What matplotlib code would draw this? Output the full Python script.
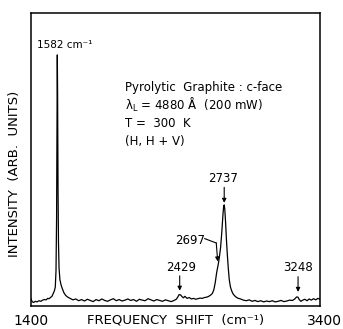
import matplotlib
matplotlib.use("Agg")
import matplotlib.pyplot as plt
import matplotlib.transforms as mtransforms

# Raman spectrum (shift in cm^-1, intensity in arb. units)
shift = [1400, 1408, 1418, 1430, 1442, 1455, 1468, 1480, 1492, 1505, 1515, 1525,
         1535, 1545, 1554, 1562, 1568, 1573, 1577, 1580, 1582, 1584, 1587, 1590,
         1594, 1600, 1608, 1616, 1628, 1640, 1655, 1670, 1690, 1710, 1730, 1750,
         1770, 1790, 1810, 1830, 1850, 1870, 1890, 1910, 1930, 1950, 1970, 1990,
         2010, 2030, 2050, 2070, 2090, 2110, 2130, 2150, 2170, 2190, 2210, 2230,
         2250, 2270, 2290, 2310, 2330, 2350, 2370, 2390, 2405, 2415, 2425, 2435,
         2445, 2455, 2465, 2480, 2495, 2510, 2525, 2540, 2555, 2570, 2585, 2600,
         2615, 2630, 2645, 2655, 2665, 2675, 2685, 2695, 2703, 2712, 2720, 2728,
         2733, 2737, 2741, 2746, 2752, 2758, 2765, 2772, 2780, 2790, 2800, 2815,
         2830, 2850, 2870, 2890, 2910, 2930, 2950, 2970, 2990, 3010, 3030, 3050,
         3070, 3090, 3110, 3130, 3150, 3170, 3190, 3210, 3225, 3238, 3248, 3256,
         3268, 3280, 3295, 3310, 3325, 3340, 3355, 3370, 3385, 3400]
intensity = [2.4, 1.5, 1.2, 1.6, 1.4, 1.8, 1.6, 2.0, 2.2, 2.1, 2.6, 2.5,
             2.9, 3.3, 4.3, 5.2, 6.5, 12.0, 30.0, 65.0, 85.7, 72.0, 40.0, 22.0,
             13.0, 9.0, 7.2, 6.0, 4.5, 3.6, 3.0, 2.6, 2.1, 2.4, 1.8, 2.2,
             1.7, 2.3, 1.9, 1.5, 2.2, 1.8, 2.4, 1.9, 1.6, 2.1, 2.5, 1.8,
             2.2, 1.7, 2.0, 2.4, 1.9, 2.2, 1.6, 2.3, 2.0, 1.8, 2.5, 2.1,
             1.7, 2.2, 1.9, 1.6, 2.1, 1.8, 1.5, 1.9, 2.3, 3.0, 3.9, 3.8,
             3.2, 2.8, 3.3, 2.6, 2.9, 2.4, 2.6, 2.3, 2.5, 2.7, 2.6, 2.9,
             3.0, 3.3, 3.8, 4.3, 5.5, 8.0, 11.5, 14.0, 16.5, 20.0, 25.0, 31.0,
             34.0, 34.5, 33.0, 29.0, 23.0, 18.0, 13.0, 9.0, 6.5, 5.0, 4.0, 3.2,
             2.7, 2.4, 2.0, 1.8, 2.1, 1.6, 1.9, 1.5, 1.8, 1.4, 1.7, 1.5,
             1.8, 1.4, 1.6, 1.9, 1.5, 1.7, 2.0, 1.9, 2.4, 3.1, 3.0, 2.2,
             1.6, 2.0, 2.3, 1.8, 2.4, 2.0, 2.5, 2.1, 2.6, 2.3]

# labelled peaks (cm^-1)
peak_g = 1582
peak_2429 = 2429
peak_2697 = 2697
peak_2737 = 2737
peak_3248 = 3248

info_lines = ["Pyrolytic  Graphite : c-face",
              "λ$_\\mathrm{L}$ = 4880 Å  (200 mW)",
              "T =  300  K",
              "(H, H + V)"]

fig = plt.figure(figsize=(3.43, 3.29), dpi=100)
ax = fig.add_axes([0.0904, 0.0699, 0.8426, 0.8906])

ax.plot(shift, intensity, color="black", lw=0.9)
ax.set_xlim(1400, 3400)
ax.set_ylim(0, 100)

# frame only, no tick marks
for sp in ax.spines.values():
    sp.set_linewidth(1.1)
ax.set_yticks([])
ax.set_xticks([1400, 3400])
ax.set_xticklabels(["1400", "3400"], fontsize=10)
ax.tick_params(axis="x", length=0, pad=6)
for lab, dx in zip(ax.get_xticklabels(), [0, 4]):
    lab.set_transform(lab.get_transform() +
                      mtransforms.ScaledTranslation(dx / 100, 0, fig.dpi_scale_trans))

ax.set_xlabel("FREQUENCY  SHIFT  (cm⁻¹)", fontsize=9.5, labelpad=-11)
ax.set_ylabel("INTENSITY  (ARB.  UNITS)", fontsize=9.5)
ax.yaxis.set_label_coords(-0.035, 0.45)

# peak labels
ax.text(1440, 89, "1582 cm⁻¹", fontsize=7.5, va="center", ha="left")

for i, line in enumerate(info_lines):
    ax.text(2050, 74.7 - 6.2 * i, line, fontsize=8.5, va="center", ha="left")

arrow = dict(arrowstyle="-|>", color="black", lw=0.8, mutation_scale=6,
             shrinkA=0, shrinkB=0)

ax.text(peak_2737 - 8, 43.5, str(peak_2737), fontsize=8.5, ha="center", va="center")
ax.annotate("", xy=(peak_2737, 35.2), xytext=(peak_2737, 40.5), arrowprops=arrow)

ax.text(peak_2429 + 9, 13.3, str(peak_2429), fontsize=8.5, ha="center", va="center")
ax.annotate("", xy=(peak_2429, 5.2), xytext=(peak_2429, 10.3), arrowprops=arrow)

ax.text(peak_3248, 13.3, str(peak_3248), fontsize=8.5, ha="center", va="center")
ax.annotate("", xy=(peak_3248, 4.8), xytext=(peak_3248, 10.0), arrowprops=arrow)

ax.text(peak_2697 - 197, 22.5, str(peak_2697), fontsize=8.5, ha="center", va="center")
ax.plot([peak_2697 - 95, peak_2697 - 15], [23.0, 21.5], color="black", lw=0.8)
ax.annotate("", xy=(peak_2697 - 5, 15.2), xytext=(peak_2697 - 15, 21.5),
            arrowprops=arrow)

fig.savefig("out.png", dpi=100)
